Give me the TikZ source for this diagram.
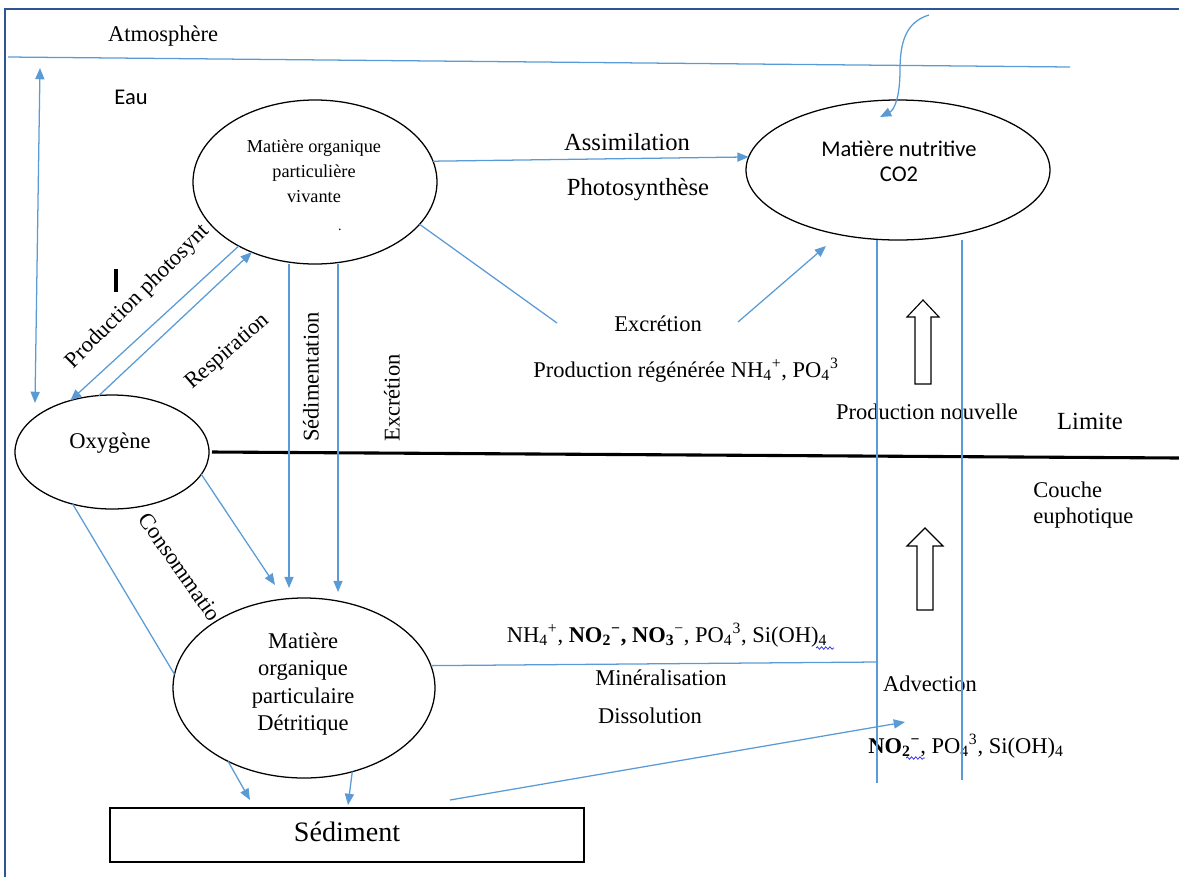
\documentclass[tikz,border=0pt]{standalone}
\usepackage{fontspec}
\setmainfont{Liberation Serif}
\newfontfamily\calibrifont{Carlito}
\usetikzlibrary{arrows.meta,shapes.geometric,decorations.pathmorphing}
\newcommand\pxu{0.025cm}
\definecolor{lblue}{RGB}{91,155,213}
\definecolor{frameblue}{RGB}{47,84,150}
\definecolor{squig}{RGB}{40,40,230}
\begin{document}
\begin{tikzpicture}[x=0.025cm,y=-0.025cm,
  conn/.style={draw=lblue,line width=0.9pt},
  arr/.style={conn,-{Triangle[length=8pt,width=6.5pt]}},
  dblarr/.style={conn,{Triangle[length=8pt,width=6.5pt]}-{Triangle[length=8pt,width=6.5pt]}},
  oval/.style={draw=black,line width=0.9pt,fill=white,ellipse,inner sep=0pt,outer sep=0pt},
  lbl/.style={inner sep=0pt,font=\fontsize{16}{19}\selectfont},
  lblbig/.style={inner sep=0pt,font=\fontsize{17.5}{21}\selectfont},
  cal/.style={inner sep=0pt,font=\calibrifont\fontsize{16}{17.8}\selectfont,align=center},
  blockarr/.style={draw=black,line width=0.8pt,fill=white},
  squiggle/.style={draw=squig,line width=0.5pt,decorate,decoration={snake,amplitude=0.9pt,segment length=3pt}}
]
\useasboundingbox (0,0) rectangle (1179,877);
% frame
\draw[frameblue,line width=1.2pt] (5,877) -- (5,9) -- (1179,9);
% atmosphere / water
\coordinate (atmL) at (8,57);
\coordinate (atmR) at (1070,67);
\draw[conn] (atmL) -- (atmR);
\node[lbl] (atm) at (163,36) {Atmosphère};
\node[cal] (eau) at (131,97) {Eau};
% rotated labels
\node[lbl,rotate=45] (lprod) at (138,297) {Production photosynt};
\node[lbl,rotate=41] (lresp) at (228,352) {Respiration};
\node[lbl,rotate=90] (lsed) at (311,377) {Sédimentation};
\node[lbl,rotate=90] (lexc) at (392,398) {Excrétion};
\node[lbl,rotate=-55] (lcons) at (180,567) {Consommatio};
% cursor bar
\coordinate (barT) at (116,269);
\coordinate (barB) at (116,292);
\draw[black,line width=2.2pt] (barT) -- (barB);
% limit line
\node[oval,minimum width=194*\pxu,minimum height=114*\pxu] (oxy) at (112,452) {};
\coordinate (limR) at (1179,458);
\draw[black,line width=2.2pt] (oxy.east) ++(3,0) coordinate (limL) -- (limR);
% ellipses
\node[oval,minimum width=244*\pxu,minimum height=164*\pxu] (viv) at (315,182) {};
\node[oval,minimum width=304*\pxu,minimum height=140*\pxu] (nut) at (898,170) {};
\node[oval,minimum width=262*\pxu,minimum height=180*\pxu] (det) at (304,688) {};
\node[draw=black,line width=0.9pt,inner sep=0pt,minimum width=474*\pxu,minimum height=54*\pxu] (sed) at (347,835) {};
% texts in shapes
\node[inner sep=0pt,align=center,font=\fontsize{13}{17.8}\selectfont] (tviv) at (314,171) {Matière organique\\particulière\\vivante};
\node[inner sep=0pt,font=\fontsize{10}{12}\selectfont] (dot) at (340,230) {.};
\node[cal] (tnut) at (899,161) {Matière nutritive\\CO2};
\node[lbl] (toxy) at (110,443) {Oxygène};
\node[lbl,align=center,font=\fontsize{16}{19.3}\selectfont] (tdet) at (303,684) {Matière\\organique\\particulaire\\Détritique};
\node[inner sep=0pt,font=\fontsize{20}{24}\selectfont] (tsed) at (347,832) {Sédiment};
% other labels
\node[lblbig] (lassim) at (627,142) {Assimilation};
\node[lblbig] (lphoto) at (638,190) {Photosynthèse};
\node[lbl] (lexc2) at (658,324) {Excrétion};
\node[lbl] (lregen) at (686,370) {Production régénérée NH\textsubscript{4}\textsuperscript{+}, PO\textsubscript{4}\textsuperscript{3}};
\node[lbl] (lnouv) at (927,412) {Production nouvelle};
\node[lblbig] (llim) at (1090,421) {Limite};
\node[lbl,anchor=west,align=left,font=\fontsize{16}{18.5}\selectfont] (lcouche) at (1033,505) {Couche\\euphotique};
\node[lbl] (lions) at (667,635) {NH\textsubscript{4}\textsuperscript{+}, \textbf{NO\textsubscript{2}\textsuperscript{−}, NO\textsubscript{3}}\textsuperscript{−}, PO\textsubscript{4}\textsuperscript{3}, Si(OH)\textsubscript{4}};
\node[lbl] (lmin) at (661,678) {Minéralisation};
\node[lbl] (ldiss) at (650,716) {Dissolution};
\node[lbl] (ladv) at (930,684) {Advection};
\node[lbl] (lions2) at (966,746) {\textbf{NO\textsubscript{2}\textsuperscript{−}}, PO\textsubscript{4}\textsuperscript{3}, Si(OH)\textsubscript{4}};
\draw[squiggle] (816,648) -- (834,648);
\draw[squiggle] (906,758) -- (925,758);
% block arrows
\draw[blockarr] (915,384) -- (915,317) -- (907,317) -- (923,300) -- (939,317) -- (931,317) -- (931,384) -- cycle;
\draw[blockarr] (917,610) -- (917,546) -- (907,546) -- (925,528) -- (943,546) -- (933,546) -- (933,610) -- cycle;
% free ends
\coordinate (vtop) at (40,68);
\coordinate (vbot) at (35,403);
\coordinate (cstart) at (929,15);
\coordinate (co2in) at (880,117);
\coordinate (excmid1) at (557,323);
\coordinate (excmid2) at (738,322);
\coordinate (exctip) at (826,246);
\coordinate (sedtip) at (289,588);
\coordinate (sedtop) at (289,264);
\coordinate (exvtip) at (338,592);
\coordinate (exvtop) at (338,264);
\coordinate (oxtip) at (275,585);
\coordinate (ds1) at (250,800);
\coordinate (ds2) at (348,805);
\coordinate (advLb) at (877,783);
\coordinate (advRb) at (962,780);
\coordinate (advJ) at (877,662);
\coordinate (sedst) at (450,800);
\coordinate (advtip) at (905,722);
% connectors
\draw[dblarr] (vbot) -- (vtop);
\draw[arr] (cstart) .. controls (906,22) and (900,42) .. (900,70) .. controls (900,98) and (894,110) .. (co2in);
\draw[arr] (viv.10) -- (nut.175);
\draw[conn] (viv.-22) -- (excmid1);
\draw[arr] (excmid2) -- (exctip);
\draw[arr] (viv.220) -- (oxy.129);
\draw[arr] (oxy.103) -- (viv.228);
\draw[arr] (sedtop) -- (sedtip);
\draw[arr] (exvtop) -- (exvtip);
\draw[arr] (oxy.-14) -- (oxtip);
\draw[conn] (oxy.233) -- (det.174);
\draw[arr] (det.224) -- (ds1);
\draw[arr] (det.-60) -- (ds2);
\draw[conn] (det.10) -- (advJ);
\draw[conn] (nut.south -| advLb) -- (advLb);
\draw[conn] (nut.south -| advRb) -- (advRb);
\draw[arr] (sedst) -- (advtip);
\end{tikzpicture}
\end{document}
